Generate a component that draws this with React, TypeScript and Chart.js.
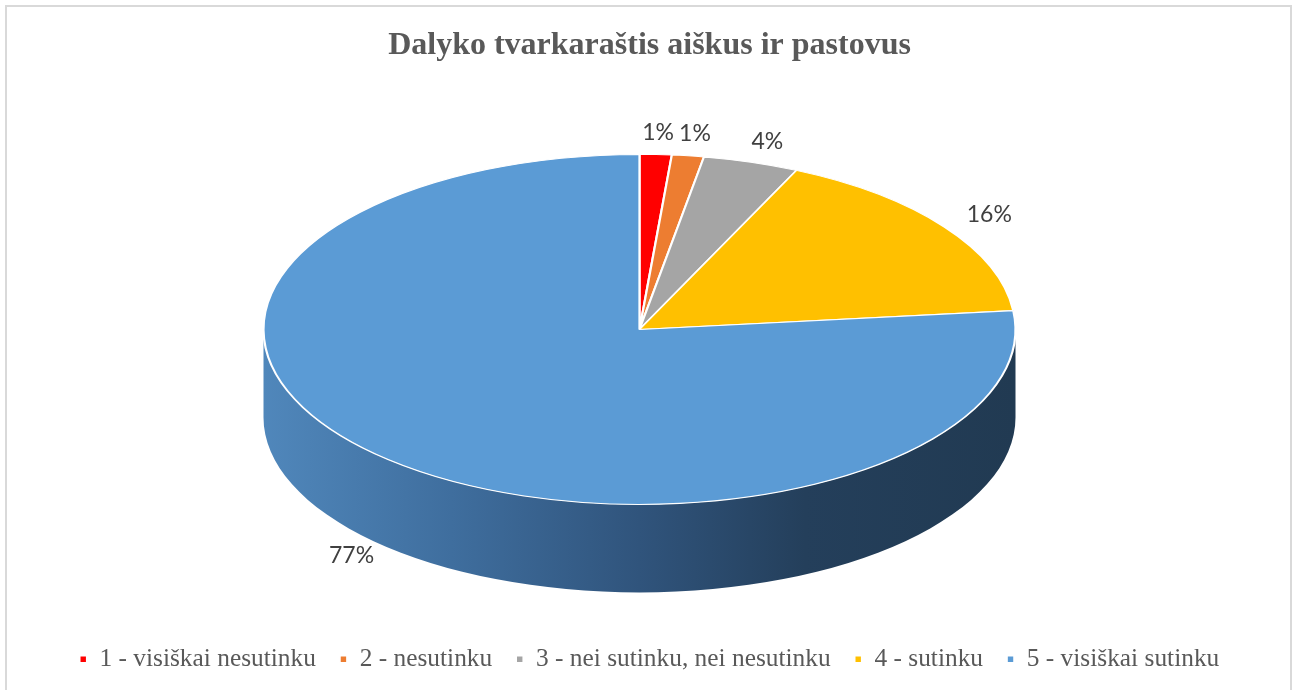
import React, { useEffect, useRef } from "react";
import { Chart, registerables } from "chart.js";

Chart.register(...registerables);

// ---- data ----
const chartTitle = "Dalyko tvarkaraštis aiškus ir pastovus";
const categories = [
  "1 - visiškai nesutinku",
  "2 - nesutinku",
  "3 - nei sutinku, nei nesutinku",
  "4 - sutinku",
  "5 - visiškai sutinku",
];
const responses = [1, 1, 3, 12, 56];

// ---- styles ----
const sliceColors = ["#FF0000", "#ED7D31", "#A5A5A5", "#FFC000", "#5B9BD5"];
const RX = 376; // horizontal radius of the top face
const RY = 175; // vertical radius of the top face
const DEPTH = 88; // thickness of the 3D wall
const PIE_TOP_GAP = 72; // gap from chart-area top to the pie top
const PIE_SHIFT_X = -10;
const LABEL_OUT_X = 55;
const LABEL_OUT_Y = 22;

function shade(hex: string, f: number) {
  const n = parseInt(hex.slice(1), 16);
  const r = Math.round(((n >> 16) & 255) * f);
  const g = Math.round(((n >> 8) & 255) * f);
  const b = Math.round((n & 255) * f);
  return `rgb(${r},${g},${b})`;
}

function geom(chart: any) {
  const meta = chart.getDatasetMeta(0);
  const a0: any = meta.data[0];
  const ca = chart.chartArea;
  return {
    a0,
    cx: a0.x + PIE_SHIFT_X,
    cy: ca.top + PIE_TOP_GAP + RY,
  };
}

const borderPlugin = {
  id: "frame",
  beforeDraw(chart: any) {
    const ctx = chart.ctx;
    ctx.save();
    ctx.fillStyle = "#ffffff";
    ctx.fillRect(0, 0, chart.width, chart.height);
    ctx.strokeStyle = "#D9D9D9";
    ctx.lineWidth = 2;
    ctx.strokeRect(6, 6, chart.width - 14, chart.height + 40);
    ctx.restore();
  },
};

const pie3dPlugin = {
  id: "pie3d",
  beforeDatasetsDraw(chart: any) {
    const meta = chart.getDatasetMeta(0);
    if (!meta.data.length) return;
    const { a0, cx, cy } = geom(chart);
    const ctx = chart.ctx;
    const r = a0.outerRadius;
    ctx.save();
    meta.data.forEach((arc: any, i: number) => {
      const s = arc.startAngle;
      const e = arc.endAngle;
      for (const k of [-1, 0, 1]) {
        const off = 2 * Math.PI * k;
        const lo = Math.max(s, off);
        const hi = Math.min(e, Math.PI + off);
        if (hi <= lo) continue;
        const a1 = lo - off;
        const a2 = hi - off;
        ctx.beginPath();
        ctx.ellipse(cx, cy, RX, RY, 0, a1, a2, false);
        ctx.ellipse(cx, cy + DEPTH, RX, RY, 0, a2, a1, true);
        ctx.closePath();
        const base = sliceColors[i];
        if (i === sliceColors.length - 1) {
          const g = ctx.createLinearGradient(cx - RX, 0, cx + RX, 0);
          g.addColorStop(0, "#5087BB");
          g.addColorStop(0.25, "#3F6E9E");
          g.addColorStop(0.5, "#30547C");
          g.addColorStop(0.72, "#243F5B");
          g.addColorStop(1, "#213A52");
          ctx.fillStyle = g;
        } else {
          ctx.fillStyle = shade(base, 0.6);
        }
        ctx.fill();
      }
    });
    ctx.restore();
    ctx.save();
    ctx.translate(cx, cy);
    ctx.scale(RX / r, RY / r);
    ctx.translate(-a0.x, -a0.y);
  },
  afterDatasetsDraw(chart: any) {
    const ctx = chart.ctx;
    ctx.restore();
    const meta = chart.getDatasetMeta(0);
    if (!meta.data.length) return;
    const { cx, cy } = geom(chart);
    const total = responses.reduce((a, b) => a + b, 0);
    ctx.save();
    ctx.font = "23px Lato";
    ctx.fillStyle = "#404040";
    ctx.textAlign = "center";
    ctx.textBaseline = "middle";
    meta.data.forEach((arc: any, i: number) => {
      const mid = (arc.startAngle + arc.endAngle) / 2;
      const sn = Math.sin(mid);
      const x = cx + (RX + LABEL_OUT_X) * Math.cos(mid);
      const y = cy + (RY + LABEL_OUT_Y) * sn + (sn > 0 ? DEPTH * 0.9 : 0);
      const pct = Math.round((responses[i] / total) * 100) + "%";
      ctx.fillText(pct, x, y);
    });
    ctx.restore();
  },
};

export default function App() {
  const ref = useRef<HTMLCanvasElement>(null);
  useEffect(() => {
    document.body.style.margin = "0";
    const chart = new Chart(ref.current!, {
      type: "pie",
      data: {
        labels: categories,
        datasets: [
          {
            data: responses,
            backgroundColor: sliceColors,
            borderColor: "#ffffff",
            borderWidth: 1.6,
          },
        ],
      },
      options: {
        responsive: false,
        animation: false,
        devicePixelRatio: 1,
        layout: { padding: { left: 0, right: 0, top: 0, bottom: 8 } },
        plugins: {
          title: {
            display: true,
            text: chartTitle,
            color: "#595959",
            font: { family: "Liberation Serif", size: 32, weight: "bold" },
            padding: { top: 27, bottom: 17 },
          },
          legend: {
            position: "bottom",
            labels: {
              color: "#595959",
              font: { family: "Liberation Serif", size: 25.4 },
              usePointStyle: true,
              pointStyle: "rect",
              boxWidth: 7,
              boxHeight: 7,
              padding: 24,
            },
          },
          tooltip: { enabled: false },
        },
      },
      plugins: [borderPlugin, pie3dPlugin],
    });
    return () => chart.destroy();
  }, []);
  return (
    <div style={{ width: 1299, height: 690, background: "#fff" }}>
      <canvas ref={ref} width={1299} height={690} style={{ display: "block" }} />
    </div>
  );
}
